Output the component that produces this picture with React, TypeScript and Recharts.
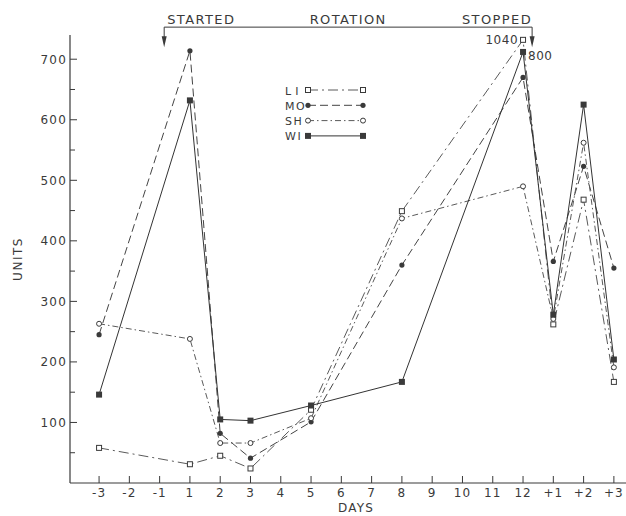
import { Legend, Line, LineChart, ReferenceLine, XAxis, YAxis } from 'recharts';

// Every day marked on the horizontal axis (there is no day 0; +1..+3 follow the stop)
const days = ['-3', '-2', '-1', '1', '2', '3', '4', '5', '6', '7', '8', '9', '10', '11', '12', '+1', '+2', '+3'];

// Days on which readings were taken
const sampleDays = ['-3', '1', '2', '3', '5', '8', '12', '+1', '+2', '+3'];

// Units per animal
const li = [58, 31, 45, 24, 121, 449, 1040, 262, 468, 167];
const mo = [245, 714, 82, 41, 101, 360, 670, 366, 523, 355];
const sh = [263, 238, 66, 66, 107, 437, 490, 271, 562, 191];
const wi = [146, 632, 105, 103, 128, 167, 800, 278, 625, 204];

const unitTicks = [50, 100, 150, 200, 250, 300, 350, 400, 450, 500, 550, 600, 650, 700];

// readings above the scale are pinned near the top and labelled with their real value
const offScale: Record<string, number> = { LI: 732, WI: 712 };

const INK = '#3a3a3a';
const FONT = '"DejaVu Sans", sans-serif';

type MarkerKind = 'openSquare' | 'dot' | 'ring' | 'square';

const series: { key: string; values: number[]; dash?: string; marker: MarkerKind; stroke: string; labelSide: 'left' | 'right' }[] = [
  { key: 'LI', values: li, dash: '10 4 2 4', marker: 'openSquare', stroke: '#5a5a5a', labelSide: 'left' },
  { key: 'MO', values: mo, dash: '8 4', marker: 'dot', stroke: '#444', labelSide: 'right' },
  { key: 'SH', values: sh, dash: '6 3 1.5 3', marker: 'ring', stroke: '#5a5a5a', labelSide: 'right' },
  { key: 'WI', values: wi, marker: 'square', stroke: '#333', labelSide: 'right' },
];

const data = sampleDays.map((d, i) => {
  const row: Record<string, number> = { x: days.indexOf(d) };
  series.forEach((s) => {
    const v = s.values[i];
    row[s.key] = Math.min(v, offScale[s.key] ?? Infinity);
    row[`${s.key}Raw`] = v;
  });
  return row;
});

const Marker = ({ kind, cx, cy }: { kind: MarkerKind; cx: number; cy: number }) => {
  switch (kind) {
    case 'openSquare':
      return <rect x={cx - 2.5} y={cy - 2.5} width={5} height={5} fill="#fff" stroke={INK} strokeWidth={1} />;
    case 'dot':
      return <circle cx={cx} cy={cy} r={2.6} fill={INK} />;
    case 'ring':
      return <circle cx={cx} cy={cy} r={2.5} fill="#fff" stroke={INK} strokeWidth={1} />;
    default:
      return <rect x={cx - 3} y={cy - 3} width={6} height={6} fill={INK} />;
  }
};

const makeDot = (s: (typeof series)[number]) => (props: any) => {
  const { cx, cy, payload, index } = props;
  const raw = payload[`${s.key}Raw`];
  const pinned = raw > payload[s.key];
  return (
    <g key={`${s.key}-${index}`}>
      <Marker kind={s.marker} cx={cx} cy={cy} />
      {pinned && (
        <text
          x={s.labelSide === 'left' ? cx - 5 : cx + 5}
          y={s.labelSide === 'left' ? cy + 4 : cy + 8}
          textAnchor={s.labelSide === 'left' ? 'end' : 'start'}
          fontSize={12}
          fontFamily={FONT}
          letterSpacing={0.5}
          fill={INK}
        >
          {raw}
        </text>
      )}
    </g>
  );
};

// tick marks point into the plot
const UnitTick = (props: any) => {
  const { x, y, payload } = props;
  const labelled = payload.value % 100 === 0;
  return (
    <g>
      <line x1={x} x2={x + (labelled ? 7 : 5)} y1={y} y2={y} stroke={INK} strokeWidth={1} />
      {labelled && (
        <text x={x - 3} y={y + 4.5} textAnchor="end" fontSize={12} fontFamily={FONT} letterSpacing={1.2} fill={INK}>
          {payload.value}
        </text>
      )}
    </g>
  );
};

const DayTick = (props: any) => {
  const { x, y, payload } = props;
  return (
    <g>
      <line x1={x} x2={x} y1={y} y2={y - 7} stroke={INK} strokeWidth={1} />
      <text x={x} y={y + 13.5} textAnchor="middle" fontSize={12} fontFamily={FONT} letterSpacing={1} fill={INK}>
        {days[payload.value]}
      </text>
    </g>
  );
};

const RotationBracket = (props: any) => {
  const { x1, y1, x2 } = props;
  const arrow = (x: number) => `M${x - 2.5},${y1 + 9} L${x + 2.5},${y1 + 9} L${x},${y1 + 20} Z`;
  const textProps = { y: y1 - 3, fontSize: 13, fontFamily: FONT, letterSpacing: 1.4, fill: INK };
  return (
    <g>
      <polyline
        points={`${x1},${y1 + 10} ${x1},${y1} ${x2},${y1} ${x2},${y1 + 10}`}
        fill="none"
        stroke={INK}
        strokeWidth={1}
      />
      <path d={arrow(x1)} fill={INK} />
      <path d={arrow(x2)} fill={INK} />
      <text x={x1 + 3} {...textProps}>STARTED</text>
      <text x={(x1 + x2) / 2} textAnchor="middle" {...textProps}>ROTATION</text>
      <text x={x2} textAnchor="end" {...textProps}>STOPPED</text>
    </g>
  );
};

const renderLegend = () => (
  <svg width={96} height={64}>
    {series.map((s, i) => {
      const y = 8 + i * 15.3;
      return (
        <g key={s.key}>
          <text x={4} y={y + 4.5} fontSize={11} fontFamily={FONT} letterSpacing={s.key === 'LI' ? 4 : 1.5} fill={INK}>
            {s.key}
          </text>
          <line x1={27} x2={82} y1={y} y2={y} stroke={s.stroke} strokeWidth={1} strokeDasharray={s.dash} />
          <Marker kind={s.marker} cx={27} cy={y} />
          <Marker kind={s.marker} cx={82} cy={y} />
        </g>
      );
    })}
  </svg>
);

const UnitsByDayChart = () => {
  return (
    <div style={{ position: 'absolute', left: 0, top: 0, width: 626, height: 516, background: '#fff' }}>
      <LineChart width={626} height={516} data={data} margin={{ top: 35, right: 0, bottom: 0, left: 0 }}>
        <XAxis
          type="number"
          dataKey="x"
          domain={[-0.96, 17.4]}
          ticks={days.map((_, i) => i)}
          interval={0}
          height={33}
          tickSize={0}
          tickMargin={0}
          tick={<DayTick />}
          axisLine={{ stroke: INK, strokeWidth: 1.2 }}
          label={{ value: 'DAYS', position: 'insideBottom', offset: 4, dx: 8, fontSize: 12, fontFamily: FONT, letterSpacing: 1.2, fill: INK }}
        />
        <YAxis
          type="number"
          domain={[0, 740]}
          ticks={unitTicks}
          interval={0}
          width={70}
          tickSize={0}
          tickMargin={0}
          tick={<UnitTick />}
          axisLine={{ stroke: INK, strokeWidth: 1.2 }}
          label={{
            value: 'UNITS',
            angle: -90,
            position: 'insideLeft',
            offset: 18,
            fontSize: 12,
            fontFamily: FONT,
            letterSpacing: 1.5,
            fill: INK,
            style: { textAnchor: 'middle' },
          }}
        />
        <Legend
          layout="vertical"
          align="center"
          verticalAlign="middle"
          content={renderLegend}
          wrapperStyle={{ left: 281, top: 82, width: 96 }}
        />
        <ReferenceLine
          segment={[{ x: 2.15, y: 753 }, { x: 14.3, y: 753 }]}
          ifOverflow="visible"
          shape={RotationBracket}
        />
        {series.map((s) => (
          <Line
            key={s.key}
            type="linear"
            dataKey={s.key}
            stroke={s.stroke}
            strokeWidth={1}
            strokeDasharray={s.dash}
            dot={makeDot(s)}
            activeDot={false}
            isAnimationActive={false}
          />
        ))}
      </LineChart>
    </div>
  );
};

export default UnitsByDayChart;
